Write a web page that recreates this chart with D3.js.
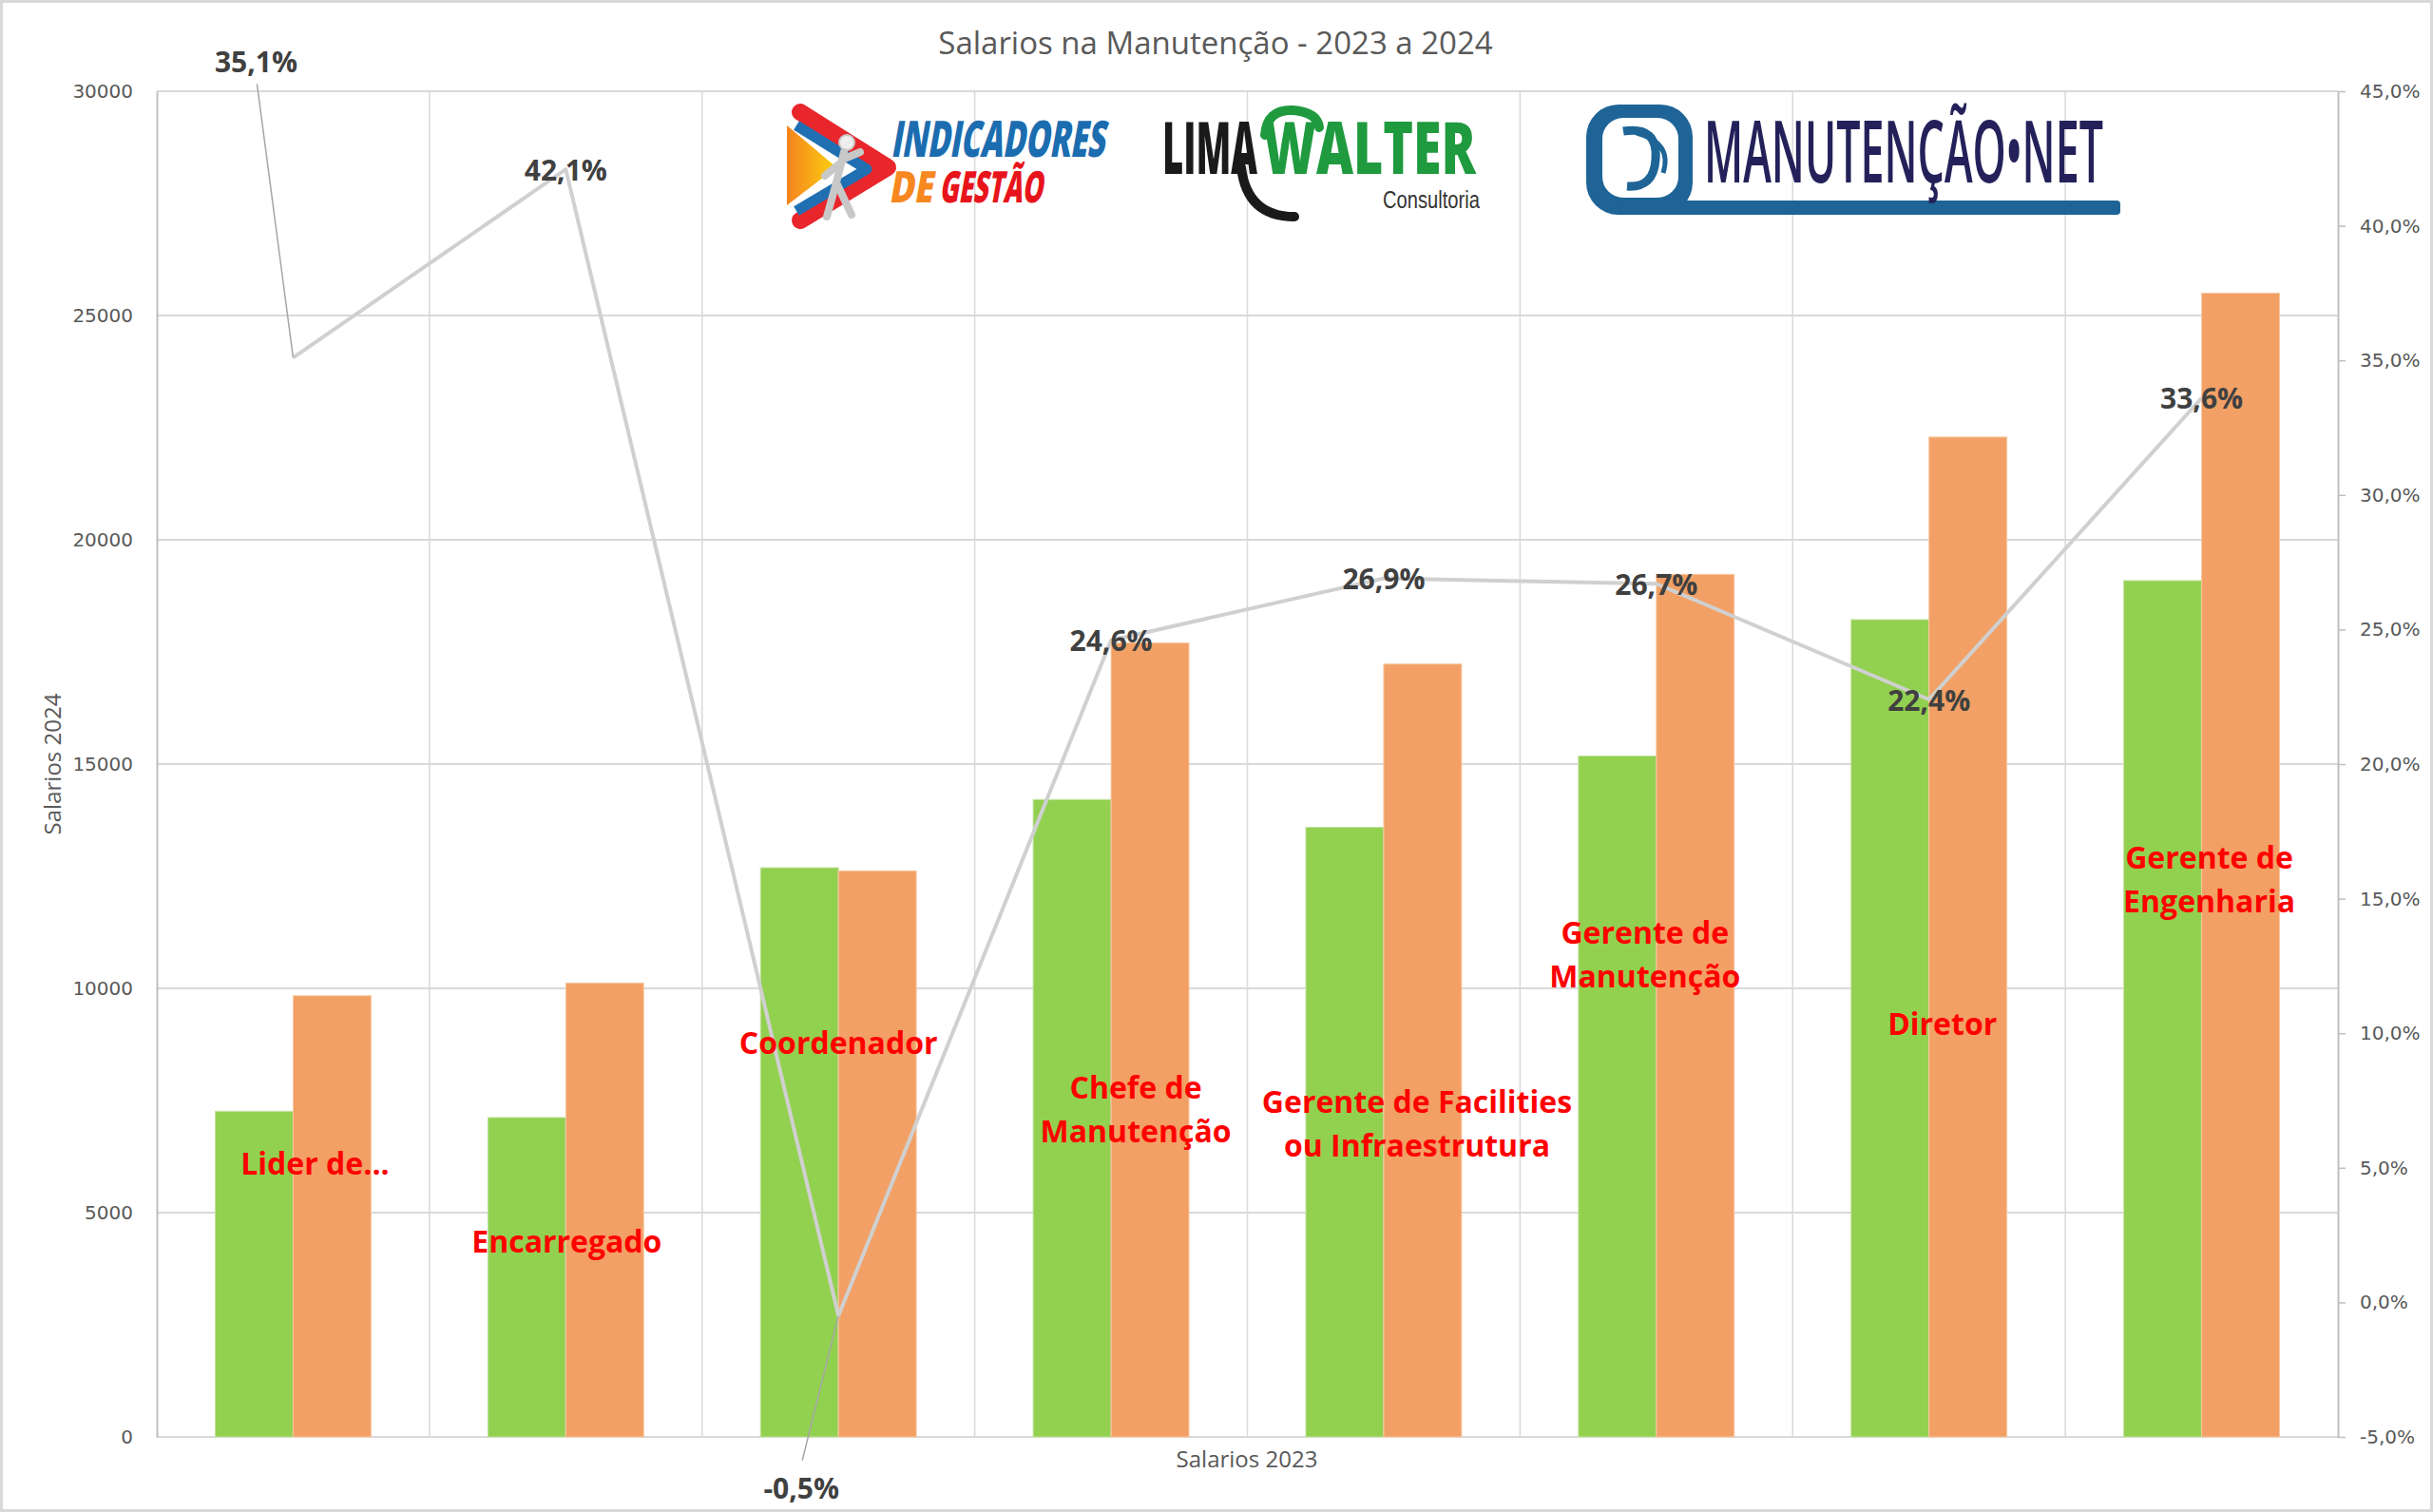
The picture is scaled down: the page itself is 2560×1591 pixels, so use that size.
<!DOCTYPE html>
<html>
<head>
<meta charset="utf-8">
<title>Salarios na Manutenção - 2023 a 2024</title>
<script src="https://cdn.jsdelivr.net/npm/d3@7"></script>
<style>
  body { margin: 0; background: #fff; }
  svg { display: block; }
</style>
</head>
<body>
<div id="chart"></div>
<script>
// values
const categories = ["Lider de...", "Encarregado", "Coordenador", "Chefe de\nManutenção",
    "Gerente de Facilities\nou Infraestrutura", "Gerente de\nManutenção", "Diretor", "Gerente de\nEngenharia"];
const salarios2023 = [7260, 7120, 12690, 14210, 13590, 15180, 18220, 19090];
const salarios2024 = [9835, 10120, 12620, 17700, 17230, 19230, 22290, 25500];
const variacao = [35.1, 42.1, -0.5, 24.6, 26.9, 26.7, 22.4, 33.6];
const salaryTicks = [0, 5000, 10000, 15000, 20000, 25000, 30000];
const pctTicks = [-5, 0, 5, 10, 15, 20, 25, 30, 35, 40, 45];

// hand placed red labels: [shift from band centre in px, height in salary units]
const labelPlace = [[23, 6120], [1, 4380], [0, 8810], [26, 7810], [35, 7500], [-12, 11260], [14, 9230], [8, 12940]];
// percent labels that were dragged away from their point (with leader line)
const pctLabelShift = { 0: [-39, -312], 2: [-39, 181] };

const W = 2560, H = 1591;
const margin = { top: 96, right: 100, bottom: 79, left: 165 };
const width = W - margin.left - margin.right;
const height = H - margin.top - margin.bottom;

const svg = d3.select("#chart").append("svg")
    .attr("width", W)
    .attr("height", H)
    .style("font-family", "'Open Sans', sans-serif");

svg.append("rect")
    .attr("x", 1.5).attr("y", 1.5)
    .attr("width", W - 3).attr("height", H - 3)
    .attr("fill", "#fff")
    .attr("stroke", "#d9d9d9")
    .attr("stroke-width", 3);

const g = svg.append("g").attr("transform", `translate(${margin.left},${margin.top})`);

const x0 = d3.scaleBand().domain(categories).range([0, width]).paddingInner(0).paddingOuter(0);
const x1 = d3.scaleBand().domain(["2023", "2024"]).range([0, x0.bandwidth()]).paddingInner(0).paddingOuter(0.75);
const y = d3.scaleLinear().domain([0, 30000]).range([height, 0]);
const y2 = d3.scaleLinear().domain([-5, 45]).range([height, 0]);
const cx = i => x0(categories[i]) + x0.bandwidth() / 2;

// gridlines
g.append("g").selectAll("line")
    .data(salaryTicks.slice(1))
    .enter().append("line")
    .attr("x1", 0).attr("x2", width)
    .attr("y1", d => y(d)).attr("y2", d => y(d))
    .attr("stroke", "#d9d9d9").attr("stroke-width", 2);

g.append("g").selectAll("line")
    .data(categories.slice(1))
    .enter().append("line")
    .attr("x1", d => x0(d)).attr("x2", d => x0(d))
    .attr("y1", 0).attr("y2", height)
    .attr("stroke", "#d9d9d9").attr("stroke-width", 1.5);

g.append("line")
    .attr("x1", 0).attr("x2", width)
    .attr("y1", height).attr("y2", height)
    .attr("stroke", "#d9d9d9").attr("stroke-width", 2);

// bars
const series = [
    { key: "2023", values: salarios2023, fill: "#92d050", stroke: "#c4e3a0" },
    { key: "2024", values: salarios2024, fill: "#f2a065", stroke: "#f8c9a4" }
];
series.forEach(s => {
    g.append("g").selectAll("rect")
        .data(s.values)
        .enter().append("rect")
        .attr("x", (d, i) => x0(categories[i]) + x1(s.key))
        .attr("y", d => y(d))
        .attr("width", x1.bandwidth())
        .attr("height", d => height - y(d))
        .attr("fill", s.fill)
        .attr("stroke", s.stroke)
        .attr("stroke-width", 1);
});

// axes
const yAxis = g.append("g")
    .call(d3.axisLeft(y).tickValues(salaryTicks).tickSize(0).tickPadding(25).tickSizeOuter(0)
        .tickFormat(d3.format("d")));
const y2Axis = g.append("g")
    .attr("transform", `translate(${width},0)`)
    .call(d3.axisRight(y2).tickValues(pctTicks).tickSize(8).tickPadding(15).tickSizeOuter(0)
        .tickFormat(d => d.toFixed(1).replace(".", ",") + "%"));
[yAxis, y2Axis].forEach(a => {
    a.select(".domain").attr("stroke", "#bfbfbf").attr("stroke-width", 2);
    a.selectAll(".tick line").attr("stroke", "#bfbfbf").attr("stroke-width", 1.5);
    a.selectAll(".tick text")
        .attr("fill", "#595959")
        .style("font-family", "'DejaVu Sans', sans-serif")
        .style("font-size", "20px");
});

// percent line
g.append("path")
    .datum(variacao)
    .attr("fill", "none")
    .attr("stroke", "#d0d0d0")
    .attr("stroke-width", 4)
    .attr("stroke-linejoin", "round")
    .attr("d", d3.line().x((d, i) => cx(i)).y(d => y2(d)));

// leader lines for moved labels
Object.keys(pctLabelShift).forEach(k => {
    const i = +k, s = pctLabelShift[k];
    const lx = cx(i) + s[0], ly = y2(variacao[i]) + s[1];
    g.append("line")
        .attr("x1", lx + 1).attr("y1", s[1] < 0 ? ly + 24 : ly - 29)
        .attr("x2", cx(i)).attr("y2", y2(variacao[i]))
        .attr("stroke", "#a6a6a6").attr("stroke-width", 1.5);
});

g.append("g").selectAll("text")
    .data(variacao)
    .enter().append("text")
    .attr("x", (d, i) => cx(i) + (pctLabelShift[i] ? pctLabelShift[i][0] : 0))
    .attr("y", (d, i) => y2(d) + (pctLabelShift[i] ? pctLabelShift[i][1] : 0))
    .attr("text-anchor", "middle")
    .attr("dominant-baseline", "central")
    .attr("fill", "#404040")
    .style("font-size", "30px")
    .style("font-weight", "bold")
    .text(d => d.toFixed(1).replace(".", ",") + "%");

// red category labels
const cat = g.append("g").selectAll("text")
    .data(categories)
    .enter().append("text")
    .attr("text-anchor", "middle")
    .attr("fill", "#ff0000")
    .style("font-size", "32px")
    .style("font-weight", "bold")
    .attr("transform", (d, i) => `translate(${cx(i) + labelPlace[i][0]},${y(labelPlace[i][1])})`);
cat.selectAll("tspan")
    .data(d => d.split("\n"))
    .enter().append("tspan")
    .attr("x", 0)
    .attr("y", (d, j) => j * 46)
    .attr("dominant-baseline", "central")
    .text(d => d);

// titles
svg.append("text")
    .attr("x", 1279).attr("y", 57)
    .attr("text-anchor", "middle")
    .attr("fill", "#595959")
    .style("font-size", "33px")
    .text("Salarios na Manutenção - 2023 a 2024");

svg.append("text")
    .attr("transform", `translate(64,804) rotate(-90)`)
    .attr("text-anchor", "middle")
    .attr("fill", "#595959")
    .style("font-size", "24px")
    .text("Salarios 2024");

svg.append("text")
    .attr("x", 1312).attr("y", 1544)
    .attr("text-anchor", "middle")
    .attr("fill", "#595959")
    .style("font-size", "24px")
    .text("Salarios 2023");

// squeeze a logo word into a given width (condensed look)
function logoText(parent, str, x, y, w, size, fill, weight, skew) {
    const t = parent.append("text")
        .attr("fill", fill)
        .style("font-size", size + "px")
        .style("font-weight", weight)
        .text(str);
    const k = w / t.node().getComputedTextLength();
    t.attr("transform", `translate(${x},${y}) skewX(${skew || 0}) scale(${k},1)`);
    return t;
}

// logos pasted over the plot
function drawLogos() {
    const lg = svg.append("g");
    const defs = svg.append("defs");
    const grad = defs.append("linearGradient").attr("id", "gold").attr("x1", 0).attr("x2", 1);
    grad.append("stop").attr("offset", 0).attr("stop-color", "#f5821f");
    grad.append("stop").attr("offset", 1).attr("stop-color", "#fcd20f");

    // Indicadores de Gestão
    lg.append("path").attr("d", "M842,118 L934,176 L842,232")
        .attr("fill", "none").attr("stroke", "#e8262b").attr("stroke-width", 18)
        .attr("stroke-linejoin", "round").attr("stroke-linecap", "round");
    lg.append("path").attr("d", "M838,132 L912,178 L838,222")
        .attr("fill", "none").attr("stroke", "#1f6fb2").attr("stroke-width", 11)
        .attr("stroke-linejoin", "round");
    lg.append("path").attr("d", "M828,132 L880,176 L828,216 Z").attr("fill", "url(#gold)");
    const fig = lg.append("g").attr("stroke", "#c8c8c8").attr("stroke-linecap", "round").attr("fill", "none");
    fig.append("circle").attr("cx", 891).attr("cy", 150).attr("r", 8).attr("fill", "#eee").attr("stroke-width", 2);
    fig.append("path").attr("d", "M888,160 L880,192 M880,192 L870,228 M880,192 L896,226 M886,168 L905,160 M886,170 L868,185")
        .attr("stroke-width", 8);
    logoText(lg, "INDICADORES", 937, 165, 225, 53, "#1b6db0", 800, -10);
    logoText(lg, "DE", 935, 213, 46, 46, "#f7871f", 800, -10);
    logoText(lg, "GESTÃO", 988, 213, 109, 46, "#e8141b", 800, -10);

    // Lima Walter
    lg.append("path").attr("d", "M1306,176 Q1312,228 1362,228")
        .attr("fill", "none").attr("stroke", "#1a1a1a").attr("stroke-width", 10).attr("stroke-linecap", "round");
    lg.append("path").attr("d", "M1331,142 Q1333,115 1360,116 Q1386,118 1388,134")
        .attr("fill", "none").attr("stroke", "#1f9a3e").attr("stroke-width", 10).attr("stroke-linecap", "round");
    logoText(lg, "LIMA", 1223, 183, 100, 77, "#1a1a1a", 800);
    logoText(lg, "WALTER", 1329, 183, 224, 77, "#1f9a3e", 800);
    logoText(lg, "Consultoria", 1455, 219, 108, 26, "#333", 400)
        .style("font-family", "'Liberation Sans', sans-serif");

    // Manutenção.net
    lg.append("rect").attr("x", 1669).attr("y", 110).attr("width", 112).attr("height", 116).attr("rx", 34)
        .attr("fill", "#1e6496");
    lg.append("rect").attr("x", 1686).attr("y", 124).attr("width", 80).attr("height", 84).attr("rx", 22)
        .attr("fill", "#fff");
    lg.append("rect").attr("x", 1700).attr("y", 211).attr("width", 531).attr("height", 15).attr("rx", 4)
        .attr("fill", "#1e6496");
    lg.append("path").attr("d", "M1708,138 Q1745,132 1742,168 Q1740,198 1712,196")
        .attr("fill", "none").attr("stroke", "#1e6496").attr("stroke-width", 9);
    lg.append("path").attr("d", "M1722,140 Q1760,150 1750,182")
        .attr("fill", "none").attr("stroke", "#1e6496").attr("stroke-width", 5);
    logoText(lg, "MANUTENÇÃO•NET", 1793, 192, 420, 91, "#24215a", 600);
}
drawLogos();
</script>
</body>
</html>
